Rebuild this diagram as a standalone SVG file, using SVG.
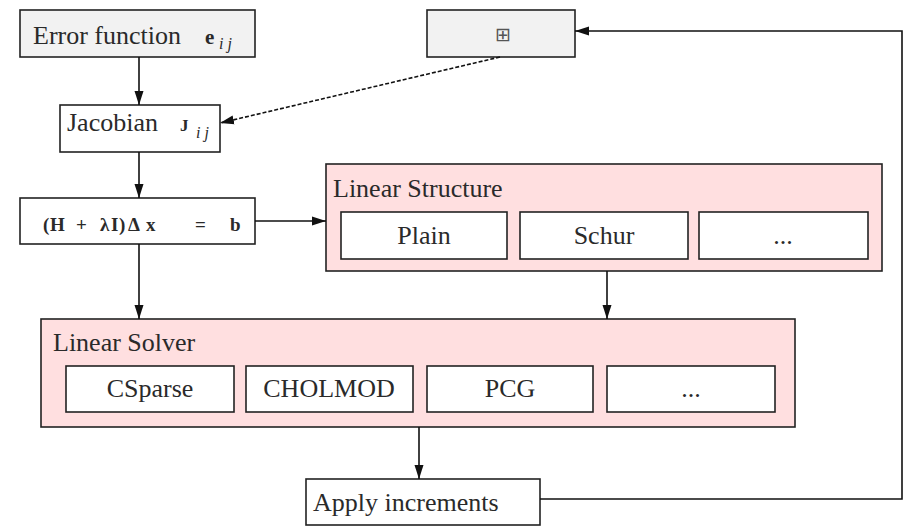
<svg xmlns="http://www.w3.org/2000/svg" width="910" height="529" viewBox="0 0 910 529">
<defs>
<marker id="ah" markerWidth="14" markerHeight="10" refX="14" refY="5" orient="auto" markerUnits="userSpaceOnUse">
<path d="M0,0.5 L14,5 L0,9.5 Z" fill="#111"/>
</marker>
<style>
.box{stroke:#222;stroke-width:1.6;fill:#fff}
.gray{fill:#f2f2f2}
.pink{fill:#ffdfe0}
.t{font-family:'Liberation Serif','Times New Roman','DejaVu Serif',serif;font-size:26px;fill:#2a2a2a}
.c{text-anchor:middle}
.m{font-family:'Liberation Serif','Times New Roman','DejaVu Serif',serif;font-weight:bold;fill:#2a2a2a}
.sub{font-family:'Liberation Serif','Times New Roman','DejaVu Serif',serif;font-style:italic;font-size:16px;fill:#2a2a2a}
.ln{stroke:#111;stroke-width:1.6;fill:none}
</style>
</defs>
<rect width="910" height="529" fill="#fff"/>
<g id="error">
<rect class="box gray" x="20" y="10" width="235" height="47"/>
<text class="t" x="33" y="44">Error function</text>
<text class="m" x="205" y="44" font-size="21">e</text>
<text class="sub" x="219" y="49">i j</text>
</g>
<g id="manifold">
<rect class="box gray" x="427" y="10" width="148" height="47"/>
<text x="503" y="41" text-anchor="middle" font-family="DejaVu Sans, sans-serif" font-size="19" fill="#555">⊞</text>
</g>
<g id="jacobian">
<rect class="box" x="60" y="105" width="160" height="47"/>
<text class="t" x="67" y="131">Jacobian</text>
<text class="m" x="180" y="131" font-size="17">J</text>
<text class="sub" x="196" y="138">i j</text>
</g>
<g id="system">
<rect class="box" x="20" y="198" width="235" height="46"/>
<text class="m" y="231" font-size="19"><tspan x="43">(</tspan><tspan x="50">H</tspan><tspan x="76">+</tspan><tspan x="100">λ</tspan><tspan x="111">I</tspan><tspan x="119">)</tspan><tspan x="128">Δ</tspan><tspan x="146">x</tspan><tspan x="195">=</tspan><tspan x="230">b</tspan></text>
</g>
<g id="structure">
<rect class="box pink" x="326" y="164" width="556" height="107"/>
<text class="t" x="333" y="197">Linear Structure</text>
<rect class="box" x="341" y="212" width="166" height="47"/>
<text class="t c" x="424" y="244">Plain</text>
<rect class="box" x="520" y="212" width="168" height="47"/>
<text class="t c" x="604" y="244">Schur</text>
<rect class="box" x="699" y="212" width="169" height="47"/>
<text class="t c" x="783" y="244">...</text>
</g>
<g id="solver">
<rect class="box pink" x="41" y="319" width="754" height="108"/>
<text class="t" x="53" y="351">Linear Solver</text>
<rect class="box" x="66" y="366" width="168" height="46"/>
<text class="t c" x="150" y="397">CSparse</text>
<rect class="box" x="246" y="366" width="167" height="46"/>
<text class="t c" x="329" y="397">CHOLMOD</text>
<rect class="box" x="427" y="366" width="166" height="46"/>
<text class="t c" x="510" y="397">PCG</text>
<rect class="box" x="607" y="366" width="168" height="46"/>
<text class="t c" x="691" y="397">...</text>
</g>
<g id="apply">
<rect class="box" x="306" y="479" width="234" height="46"/>
<text class="t" x="313" y="511">Apply increments</text>
</g>
<g id="connectors">
<line class="ln" x1="139" y1="57" x2="139" y2="105" marker-end="url(#ah)"/>
<line class="ln" x1="500" y1="57" x2="220" y2="123" stroke-dasharray="4,2" marker-end="url(#ah)"/>
<line class="ln" x1="139" y1="152" x2="139" y2="198" marker-end="url(#ah)"/>
<line class="ln" x1="255" y1="221" x2="326" y2="221" marker-end="url(#ah)"/>
<line class="ln" x1="139" y1="244" x2="139" y2="319" marker-end="url(#ah)"/>
<line class="ln" x1="607" y1="271" x2="607" y2="319" marker-end="url(#ah)"/>
<line class="ln" x1="419" y1="427" x2="419" y2="479" marker-end="url(#ah)"/>
<polyline class="ln" points="540,499 902,499 902,31 575,31" marker-end="url(#ah)"/>
</g>
</svg>
